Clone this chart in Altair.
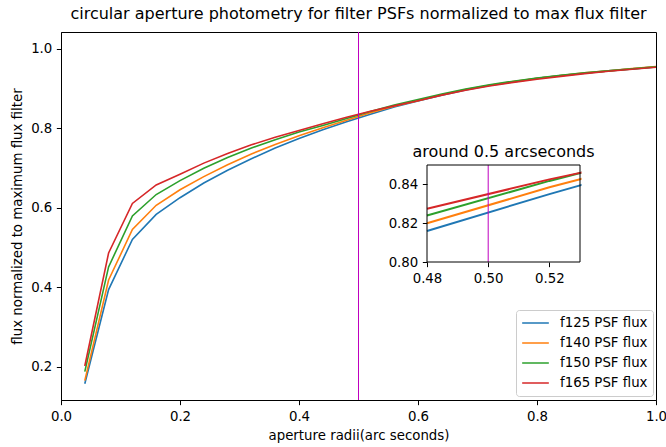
import altair as alt
import pandas as pd

# ---------------- data ----------------
radii = [0.04, 0.08, 0.12, 0.16, 0.20, 0.24, 0.28, 0.32, 0.36, 0.40, 0.44, 0.48, 0.52,
         0.56, 0.60, 0.64, 0.68, 0.72, 0.76, 0.80, 0.84, 0.88, 0.92, 0.96, 1.00]
f125 = [0.157, 0.394, 0.520, 0.583, 0.625, 0.662, 0.694, 0.723, 0.750, 0.774, 0.796, 0.816, 0.835,
        0.853, 0.868, 0.883, 0.896, 0.907, 0.916, 0.925, 0.932, 0.938, 0.944, 0.949, 0.954]
f140 = [0.165, 0.418, 0.545, 0.606, 0.645, 0.678, 0.708, 0.735, 0.759, 0.781, 0.801, 0.820, 0.8385,
        0.855, 0.869, 0.884, 0.897, 0.908, 0.917, 0.925, 0.932, 0.939, 0.944, 0.950, 0.955]
f150 = [0.1875, 0.451, 0.579, 0.633, 0.668, 0.699, 0.726, 0.750, 0.771, 0.790, 0.8065, 0.824, 0.8418,
        0.858, 0.872, 0.886, 0.898, 0.909, 0.918, 0.926, 0.933, 0.939, 0.944, 0.949, 0.954]
f165 = [0.2017, 0.486, 0.6105, 0.657, 0.684, 0.712, 0.736, 0.758, 0.777, 0.794, 0.811, 0.8274, 0.8426,
        0.856, 0.869, 0.883, 0.895, 0.906, 0.915, 0.923, 0.930, 0.937, 0.943, 0.948, 0.953]

series_names = ["f125 PSF flux", "f140 PSF flux", "f150 PSF flux", "f165 PSF flux"]
series_colors = ["#1f77b4", "#ff7f0e", "#2ca02c", "#d62728"]

main_ticks_x = [0.0, 0.2, 0.4, 0.6, 0.8, 1.0]
main_ticks_y = [0.2, 0.4, 0.6, 0.8, 1.0]
inset_ticks_x = [0.48, 0.50, 0.52]
inset_ticks_y = [0.80, 0.82, 0.84]
marker_radius = [0.5]

FONT = "DejaVu Sans"
W, H = 595, 368
MAGENTA = "#bf00bf"

rows = []
for name, vals in zip(series_names, [f125, f140, f150, f165]):
    for r, v in zip(radii, vals):
        rows.append({"radius": r, "flux": v, "series": name})
df = pd.DataFrame(rows)

color_enc = alt.Color(
    "series:N",
    scale=alt.Scale(domain=series_names, range=series_colors),
    legend=alt.Legend(
        title=None, orient="none", legendX=455, legendY=278,
        symbolType="stroke", symbolSize=711, symbolStrokeWidth=1.6,
        labelFontSize=13.33, labelFont=FONT, labelColor="black", labelOffset=10,
        clipHeight=16, rowPadding=4, padding=5,
        fillColor="white", strokeColor="#cccccc", cornerRadius=3,
    ),
)

# ---------------- main panel ----------------
main_x = alt.X(
    "radius:Q",
    scale=alt.Scale(domain=[0, 1], nice=False, zero=False),
    axis=alt.Axis(values=main_ticks_x, format=".1f", title="aperture radii(arc seconds)",
                  orient="bottom", labelFlush=False, labelOverlap=False, titlePadding=6),
)
main_y = alt.Y(
    "flux:Q",
    scale=alt.Scale(domain=[0.1163, 1.0417], nice=False, zero=False),
    axis=alt.Axis(values=main_ticks_y, format=".1f", title="flux normalized to maximum flux filter",
                  orient="left", labelOverlap=False, titlePadding=6),
)

main_lines = alt.Chart(df).mark_line(strokeWidth=1.6, clip=True).encode(
    x=main_x, y=main_y, color=color_enc
)
main_rule = alt.Chart(pd.DataFrame({"radius": marker_radius})).mark_rule(
    color=MAGENTA, strokeWidth=1
).encode(x=alt.X("radius:Q"))

main = alt.layer(main_lines, main_rule)

# ---------------- inset panel ----------------
inset_x_scale = alt.Scale(domain=[0.48, 0.53], range=[366, 519], nice=False, zero=False)
inset_y_scale = alt.Scale(domain=[0.80, 0.85], range=[230, 133], nice=False, zero=False)

inset_lines = (
    alt.Chart(df)
    .transform_filter((alt.datum.radius >= 0.475) & (alt.datum.radius <= 0.565))
    .mark_line(strokeWidth=2, clip=True)
    .encode(
        x=alt.X("radius:Q", scale=inset_x_scale,
                axis=alt.Axis(values=inset_ticks_x, format=".2f", title=None, orient="bottom",
                              offset=-138, domain=False, labelFlush=False, labelOverlap=False)),
        y=alt.Y("flux:Q", scale=inset_y_scale,
                axis=alt.Axis(values=inset_ticks_y, format=".2f", title=None, orient="left",
                              offset=-366, domain=False, labelOverlap=False)),
        color=alt.Color("series:N", legend=None),
    )
)

dummy = pd.DataFrame({"k": [0]})

inset_mask = alt.Chart(dummy).mark_rect(color="white", clip=True).encode(
    x=alt.datum(0.5305), x2=alt.datum(0.5600), y=alt.datum(0.82), y2=alt.datum(0.87)
)
inset_rule = alt.Chart(dummy).mark_rule(color=MAGENTA, strokeWidth=1).encode(
    x=alt.datum(0.5), y=alt.datum(0.80), y2=alt.datum(0.85)
)
inset_frame = alt.Chart(dummy).mark_rect(fillOpacity=0, stroke="black", strokeWidth=1).encode(
    x=alt.datum(0.48), x2=alt.datum(0.53), y=alt.datum(0.80), y2=alt.datum(0.85)
)
inset_title = alt.Chart(dummy).mark_text(
    text="around 0.5 arcseconds", font=FONT, fontSize=16, color="black",
    align="center", baseline="alphabetic", dy=-8,
).encode(x=alt.datum(0.505), y=alt.datum(0.85))

inset = alt.layer(inset_lines, inset_mask, inset_rule, inset_frame, inset_title)

chart = (
    alt.layer(main, inset)
    .resolve_scale(x="independent", y="independent")
    .properties(
        width=W, height=H,
        title=alt.TitleParams(
            text="circular aperture photometry for filter PSFs normalized to max flux filter",
            font=FONT, fontSize=16, fontWeight="normal", color="black",
            anchor="middle", offset=10,
        ),
        padding={"left": 61, "top": 32, "right": 10, "bottom": 47},
        autosize=alt.AutoSizeParams(type="none"),
    )
    .configure_axis(
        labelFont=FONT, titleFont=FONT, labelFontSize=13.33, titleFontSize=13.33,
        labelColor="black", titleColor="black", tickColor="black", domainColor="black",
        tickSize=4.67, tickWidth=1, domainWidth=1, labelPadding=4.5,
        titleFontWeight="normal", grid=False,
    )
    .configure_view(stroke="black", strokeWidth=1)
)

chart.save("out.html", embed_options={"renderer": "svg", "actions": False})
